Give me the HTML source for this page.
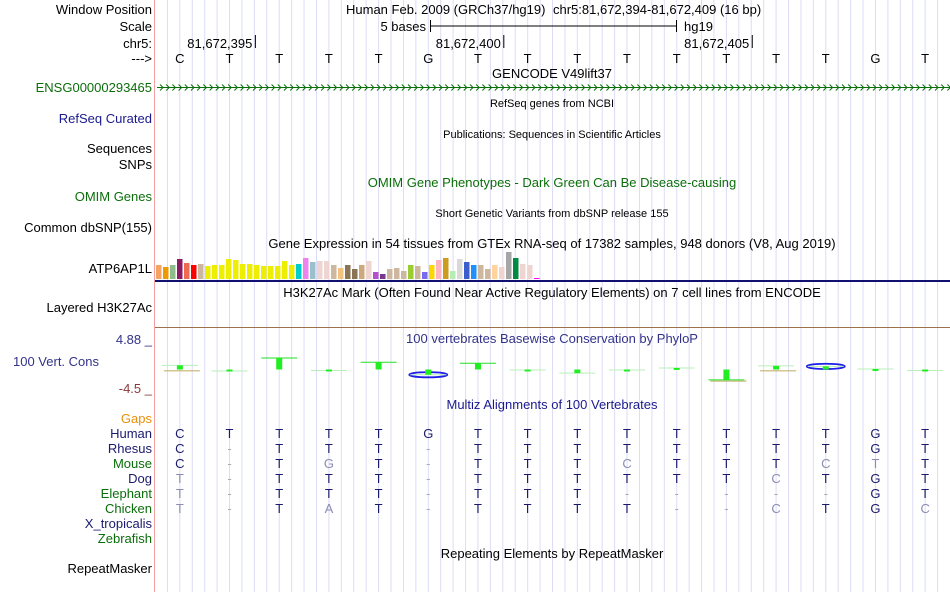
<!DOCTYPE html>
<html><head><meta charset="utf-8"><style>
body{margin:0;background:#fff;width:950px;height:592px;overflow:hidden;font-family:"Liberation Sans",Arial,sans-serif}
svg text{font-family:"Liberation Sans",Arial,sans-serif}
</style></head><body>
<svg id="c" width="950" height="592"></svg>
<script>
const bases=["C","T","T","T","T","G","T","T","T","T","T","T","T","T","G","T"];
const species=["Human","Rhesus","Mouse","Dog","Elephant","Chicken","X_tropicalis","Zebrafish"];
const speciesColors=["#1a1a6e","#1a1a6e","#0a6e0a","#1a1a6e","#0a6e0a","#0a6e0a","#1a1a6e","#0a6e0a"];
const alignRows=["CTTTTGTTTTTTTTGT","C-TTT-TTTTTTTTGT","C-TGT-TTTCTTTCTT","T-TTT-TTTTTTCTGT","T-TTT-TTT-----GT","T-TAT-TTTT--CTGC"];
const phylop=[0.8,-0.3,2.2,-0.2,1.4,-1.0,1.2,-0.1,-0.7,-0.1,0.3,-2.0,0.7,0.6,0.1,-0.2];
const blueMarks=[5,13];
const smearMarks=[0,11,12];
const gtexH=[14,12,14,20,16,14,15,13,14,14,20,19,15,15,14,13,13,13,18,14,15,21,17,18,18,14,11,14,10,14,18,7,5,10,11,8,14,13,7,14,19,21,8,20,17,14,14,10,14,12,27,21,15,14,1];
const gtexC=["#f4a460","#ee9a00","#8fbc8f","#8b1c62","#ee6a50","#ff0000","#cdb79e","#eeee00","#eeee00","#eeee00","#eeee00","#eeee00","#eeee00","#eeee00","#eeee00","#eeee00","#eeee00","#eeee00","#eeee00","#eeee00","#00cdcd","#ee82ee","#9ac0cd","#eed5d2","#eed5d2","#cdb79e","#f4c27f","#8b7355","#8b7355","#cdaa7d","#eed5d2","#b452cd","#7a378b","#cdb79e","#cdb79e","#cdb79e","#9acd32","#cdb79e","#7b68ee","#ffd700","#ffb6c1","#cd9b1d","#b4eeb4","#d9d9d9","#3a5fcd","#1e90ff","#cdb79e","#cdb79e","#ffd39b","#eed5d2","#a6a6a6","#008b45","#eed5d2","#eed5d2","#ff00ff"];
const posLabels=["81,672,395","81,672,400","81,672,405"];
const posIdx=[1,6,11];

const NS="http://www.w3.org/2000/svg",svg=document.getElementById('c');
const X0=155,BW=(950-155)/16;
function bx(i){return X0+BW*i;}
function el(t,a,p){const e=document.createElementNS(NS,t);for(const k in a)e.setAttribute(k,a[k]);(p||svg).appendChild(e);return e;}
function tx(s,x,y,o){const e=el('text',Object.assign({x:x,y:y,'font-size':13,fill:'#000'},o||{}));e.textContent=s;return e;}
for(let k=1;k<64;k++){const g=el('line',{x1:X0+k*BW/4,x2:X0+k*BW/4,y1:0,y2:592,stroke:'#dcdcf6','stroke-width':1});

}
el('line',{x1:154.5,x2:154.5,y1:0,y2:592,stroke:'#f4a0a0'});
const L=[["Window Position",14,"#000"],["Scale",31,"#000"],["chr5:",48,"#000"],["--->",63,"#000"],["ENSG00000293465",92,"#0a6e0a"],["RefSeq Curated",123,"#1a1a8e"],["Sequences",153,"#000"],["SNPs",169,"#000"],["OMIM Genes",201,"#0a6e0a"],["Common dbSNP(155)",232,"#000"],["ATP6AP1L",273,"#000"],["Layered H3K27Ac",312,"#000"]];
L.forEach(l=>{const t=tx(l[0],152,l[1],{'text-anchor':'end',fill:l[2]});

});
tx("100 Vert. Cons",13,366,{fill:'#33338a'});
tx("4.88 _",152,344,{'text-anchor':'end',fill:'#33338a'});
tx("-4.5 _",152,393,{'text-anchor':'end',fill:'#8b3a3a'});
tx("Gaps",152,423,{'text-anchor':'end',fill:'#e8900a'});
species.forEach((s,i)=>{const t=tx(s,152,438+15*i,{'text-anchor':'end',fill:speciesColors[i]});

});
tx("RepeatMasker",152,573,{'text-anchor':'end'});
tx("Human Feb. 2009 (GRCh37/hg19)",346,14);
tx("chr5:81,672,394-81,672,409 (16 bp)",553,14);
tx("5 bases",426,31,{'text-anchor':'end'});
el('line',{x1:430,x2:677,y1:26,y2:26,stroke:'#000'});
el('line',{x1:430.5,x2:430.5,y1:20,y2:32,stroke:'#000'});
el('line',{x1:676.5,x2:676.5,y1:20,y2:32,stroke:'#000'});
tx("hg19",684,31);
posLabels.forEach((p,i)=>{const x=bx(posIdx[i]+1)+1;tx(p,x-3,48,{'text-anchor':'end'});el('line',{x1:x,x2:x,y1:35,y2:48,stroke:'#000'});});
bases.forEach((b,i)=>{const t=tx(b,bx(i)+BW/2,63,{'text-anchor':'middle'});

});
tx("GENCODE V49lift37",552,78,{'text-anchor':'middle'});
el('line',{x1:157,x2:950,y1:87.5,y2:87.5,stroke:'#0a6e0a'});
for(let x=160;x<950;x+=6.2)el('path',{d:`M${x},84.5 L${x+3},87.5 L${x},90.5`,stroke:'#0a6e0a',fill:'none','stroke-width':1});
tx("RefSeq genes from NCBI",552,107,{'text-anchor':'middle','font-size':11});
tx("Publications: Sequences in Scientific Articles",552,138,{'text-anchor':'middle','font-size':11});
tx("OMIM Gene Phenotypes - Dark Green Can Be Disease-causing",552,187,{'text-anchor':'middle',fill:'#0a6e0a'});
tx("Short Genetic Variants from dbSNP release 155",552,217,{'text-anchor':'middle','font-size':11});
tx("Gene Expression in 54 tissues from GTEx RNA-seq of 17382 samples, 948 donors (V8, Aug 2019)",552,248,{'text-anchor':'middle'});
gtexH.forEach((h,i)=>{const r=el('rect',{x:156+i*7,y:279-h,width:5.5,height:h,fill:gtexC[i%gtexC.length]});

});
el('rect',{x:155,y:280,width:795,height:2,fill:'#101070'});
tx("H3K27Ac Mark (Often Found Near Active Regulatory Elements) on 7 cell lines from ENCODE",552,297,{'text-anchor':'middle'});
el('line',{x1:155,x2:950,y1:327.5,y2:327.5,stroke:'#a0704a'});
tx("100 vertebrates Basewise Conservation by PhyloP",552,343,{'text-anchor':'middle',fill:'#33338a'});
function py(v){return 369.5-v*5.2;}
phylop.forEach((v,i)=>{const cx=bx(i)+BW/2;
if(smearMarks.includes(i))el('rect',{x:cx-16,y:py(Math.min(v,0))+0.5,width:36,height:1.5,fill:'#c8b878',opacity:0.8});
if(blueMarks.includes(i)){const e=el('ellipse',{cx:cx,cy:py(v),rx:19,ry:2.6,fill:'none',stroke:'#2020e8','stroke-width':1.8});

}
const big=Math.abs(v)>1;
el('line',{x1:cx-18,x2:cx+18,y1:py(v),y2:py(v),stroke:big?'#22e022':'#b8f0b8','stroke-width':1});
const r=el('rect',{x:cx-3,y:Math.min(py(v),py(0)),width:6,height:Math.max(2,Math.abs(py(v)-py(0))),fill:'#20ee20'});

});
tx("Multiz Alignments of 100 Vertebrates",552,409,{'text-anchor':'middle',fill:'#1a1a8e'});
alignRows.forEach((row,r)=>{row.split('').forEach((c,i)=>{const cx=bx(i)+BW/2;
const match=c===bases[i];
const t=tx(c,cx,438+15*r,{'text-anchor':'middle',fill:c==='-'?'#aaaaaa':(match||r===0?'#1a1a6e':'#8c8cb4')});

});});
tx("Repeating Elements by RepeatMasker",552,558,{'text-anchor':'middle'});
</script>
</body></html>
